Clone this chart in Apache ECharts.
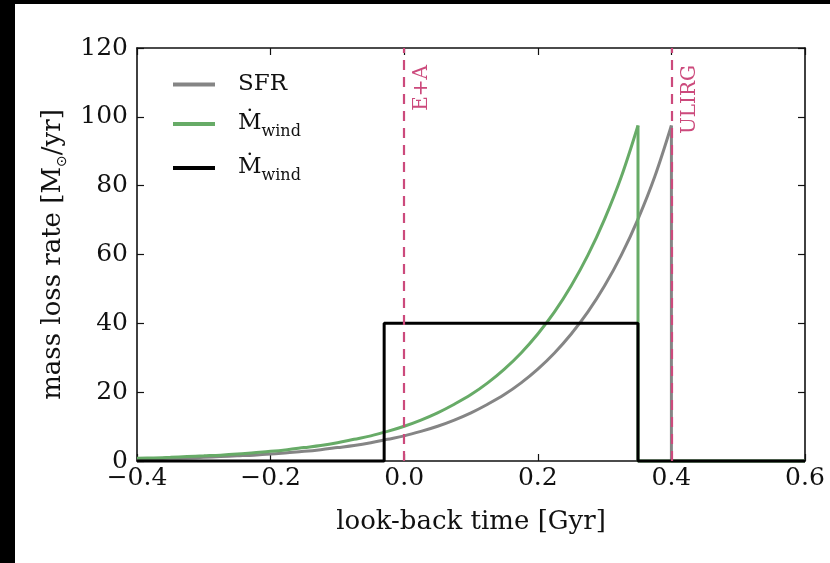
<!DOCTYPE html>
<html><head><meta charset="utf-8">
<script src="https://cdn.jsdelivr.net/npm/echarts@6/dist/echarts.min.js"></script>
<style>
html,body{margin:0;padding:0;background:#000;width:830px;height:563px;overflow:hidden}
#c{position:absolute;left:15px;top:4px;width:815px;height:559px;background:#fff}
</style></head><body><div id="c"></div>
<script>
// look-back time [Gyr] grid for the SFR curve
const sfrX = [-0.4,-0.375,-0.35,-0.325,-0.3,-0.275,-0.25,-0.225,-0.2,-0.175,-0.15,-0.125,-0.1,-0.075,-0.05,-0.025,0,0.025,0.05,0.075,0.1,0.125,0.15,0.175,0.2,0.225,0.25,0.275,0.3,0.325,0.35,0.375,0.4];
const sfrY = [0.56,0.65,0.77,0.9,1.06,1.3,1.5,1.7,2.0,2.4,2.8,3.3,3.9,4.5,5.3,6.3,7.3,8.6,10.1,11.9,14.0,16.5,19.3,22.7,26.7,31.4,36.9,43.3,50.9,59.8,70.3,82.6,97.5];
const sfrTailX = [0.4,0.4,0.6];
const sfrTailY = [97.5,0,0];
// green Mdot_wind curve
const windX = [-0.4,-0.375,-0.35,-0.325,-0.3,-0.275,-0.25,-0.225,-0.2,-0.175,-0.15,-0.125,-0.1,-0.075,-0.05,-0.025,0,0.025,0.05,0.075,0.1,0.125,0.15,0.175,0.2,0.225,0.25,0.275,0.3,0.325,0.35];
const windY = [0.77,0.9,1.06,1.3,1.5,1.7,2.0,2.4,2.8,3.3,3.9,4.5,5.3,6.3,7.3,8.6,10.1,11.9,14.0,16.5,19.3,22.7,26.7,31.4,36.9,43.3,50.9,59.8,70.3,82.6,97.5];
const windTailX = [0.35,0.35,0.6];
const windTailY = [97.5,0,0];
// black box Mdot_wind
const boxX = [-0.4,-0.03,-0.03,0.35,0.35,0.6];
const boxY = [0,0,40,40,0,0];
// event markers
const eventX = [0,0.4];
const eventLabels = ['E+A','ULIRG'];
const xTicks = {min:-0.4,max:0.6,interval:0.2};
const yTicks = {min:0,max:120,interval:20};

const zip = (xs,ys)=>xs.map((x,i)=>[x,ys[i]]);
const FONT = 'DejaVu Serif';
const pink = '#cc4a7c';
const grey = '#858585', green = '#67ab67';
const chart = echarts.init(document.getElementById('c'));
const names = {SFR:'SFR', W1:'{m|Ṁ}{s|wind}', W2:'{m|Ṁ}{s|wind}'};
const axisBase = {
  axisLine:{show:true,onZero:false,lineStyle:{color:'#111',width:1.6}},
  axisTick:{show:true,inside:true,length:7,lineStyle:{color:'#111',width:1.2}},
  splitLine:{show:false}
};
const plain = {showSymbol:false,symbol:'none',clip:false};
chart.setOption({
  animation:false,
  backgroundColor:'#fff',
  grid:{left:122,right:25,top:44,bottom:102},
  legend:{
    orient:'vertical',left:153,top:64,itemGap:12,itemWidth:42,itemHeight:4,icon:'rect',
    data:['SFR','W1','W2'],
    formatter:n=>names[n],
    textStyle:{fontFamily:FONT,fontSize:23,color:'#111',padding:[0,0,0,18],
      rich:{m:{fontFamily:FONT,fontSize:23,lineHeight:25,verticalAlign:'top',color:'#111'},
            s:{fontFamily:FONT,fontSize:16,lineHeight:16,padding:[16,0,0,0],color:'#111'}}}
  },
  xAxis:[
    Object.assign({},axisBase,{type:'value',position:'bottom',min:xTicks.min,max:xTicks.max,interval:xTicks.interval,
      name:'look-back time [Gyr]',nameLocation:'middle',nameGap:48,
      nameTextStyle:{fontFamily:FONT,fontSize:26,color:'#111'},
      axisLabel:{fontFamily:FONT,fontSize:25,color:'#111',margin:5,
        formatter:v=>v.toFixed(1).replace('-','−')}}),
    Object.assign({},axisBase,{type:'value',position:'top',min:xTicks.min,max:xTicks.max,interval:xTicks.interval,axisLabel:{show:false}})
  ],
  yAxis:[
    Object.assign({},axisBase,{type:'value',position:'left',min:yTicks.min,max:yTicks.max,interval:yTicks.interval,
      name:'{a|mass loss rate [M}{b|⊙}{a|/yr]}',nameLocation:'middle',nameGap:62,
      nameTextStyle:{fontFamily:FONT,fontSize:26,color:'#111',
        rich:{a:{fontFamily:FONT,fontSize:26,color:'#111',lineHeight:28,verticalAlign:'top'},
              b:{fontFamily:'DejaVu Sans',fontSize:14,color:'#111',lineHeight:14,padding:[17,0,0,0]}}},
      axisLabel:{fontFamily:FONT,fontSize:25,color:'#111',margin:9}}),
    Object.assign({},axisBase,{type:'value',position:'right',min:yTicks.min,max:yTicks.max,interval:yTicks.interval,axisLabel:{show:false}})
  ],
  series:[
    Object.assign({name:'SFR',type:'line',data:zip(sfrX,sfrY),smooth:0.35,
      lineStyle:{color:grey,width:3},itemStyle:{color:grey},z:2,
      markLine:{silent:true,symbol:'none',animation:false,
        lineStyle:{color:pink,type:[10,7],width:2.2},
        label:{show:true,position:'insideEndBottom',distance:[17,8],formatter:p=>p.name,color:pink,fontFamily:FONT,fontSize:20},
        data:eventX.map((x,i)=>({xAxis:x,name:eventLabels[i]}))}},plain),
    Object.assign({name:'SFR',type:'line',data:zip(sfrTailX,sfrTailY),lineStyle:{color:grey,width:3},itemStyle:{color:grey},z:2},plain),
    Object.assign({name:'W1',type:'line',data:zip(windX,windY),smooth:0.35,
      lineStyle:{color:green,width:3},itemStyle:{color:green},z:3},plain),
    Object.assign({name:'W1',type:'line',data:zip(windTailX,windTailY),lineStyle:{color:green,width:3},itemStyle:{color:green},z:3},plain),
    Object.assign({name:'W2',type:'line',data:zip(boxX,boxY),lineStyle:{color:'#000',width:3},itemStyle:{color:'#000'},z:4},plain)
  ]
});
</script></body></html>
